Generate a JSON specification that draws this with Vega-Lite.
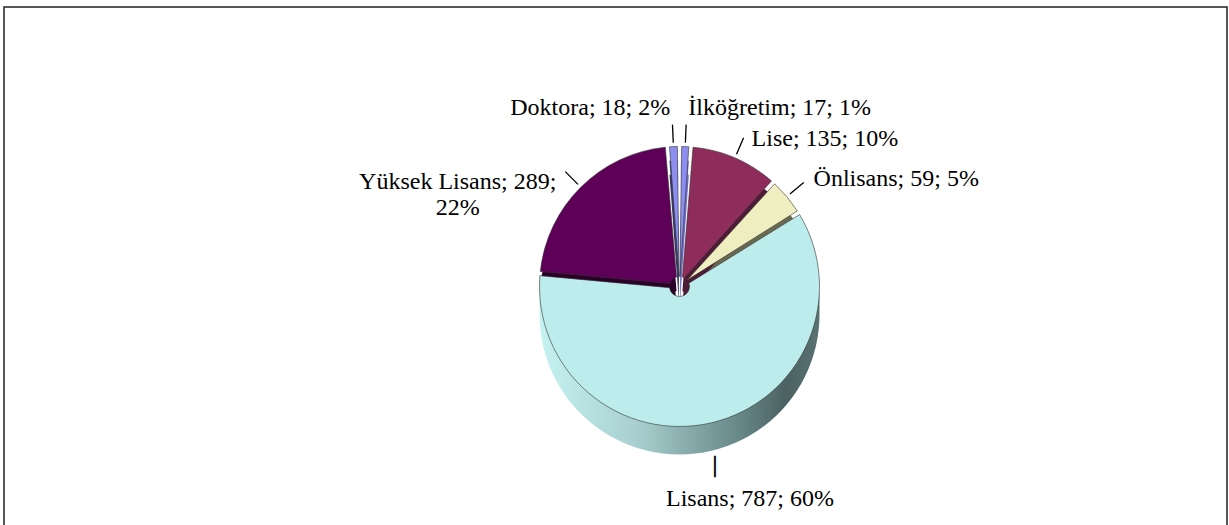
{
  "$schema": "https://vega.github.io/schema/vega-lite/v6.json",
  "autosize": {"type": "fit", "contains": "padding"},
  "width": 1229,
  "height": 525,
  "padding": {"left": 4, "top": 7, "right": 2, "bottom": -3},
  "background": "white",
  "view": {"stroke": "#222", "strokeWidth": 1.5},
  "config": {"view": {"stroke": "#222", "strokeWidth": 1.5}},
  "data": {"values": [
    {"idx": 1, "cat": "İlköğretim", "n": 17, "label": "İlköğretim; 17; 1%"},
    {"idx": 2, "cat": "Lise", "n": 135, "label": "Lise; 135; 10%"},
    {"idx": 3, "cat": "Önlisans", "n": 59, "label": "Önlisans; 59; 5%"},
    {"idx": 4, "cat": "Lisans", "n": 787, "label": "Lisans; 787; 60%"},
    {"idx": 5, "cat": "Yüksek Lisans", "n": 289, "label": "Yüksek Lisans; 289;\n22%"},
    {"idx": 6, "cat": "Doktora", "n": 18, "label": "Doktora; 18; 2%"}
  ]},
  "encoding": {
    "theta": {"field": "n", "type": "quantitative", "stack": true},
    "order": {"field": "idx", "type": "quantitative"}
  },
  "layer": [
    {
      "mark": {"type": "arc", "radius": 140, "radius2": 10, "padAngle": 0.03, "x": {"expr": "width/2+64"}, "y": {"expr": "height/2+47"}},
      "encoding": {
        "fill": {
          "condition": {"test": "datum.cat === 'Lisans'", "value": {"gradient": "linear", "x1": 0, "y1": 0, "x2": 1, "y2": 0, "stops": [{"offset": 0, "color": "#c6f2f2"}, {"offset": 0.35, "color": "#a8cfcf"}, {"offset": 0.7, "color": "#6a8a8a"}, {"offset": 0.88, "color": "#4c6262"}, {"offset": 1, "color": "#5a7272"}]}},
          "field": "cat", "type": "nominal",
          "scale": {"domain": ["İlköğretim", "Lise", "Önlisans", "Lisans", "Yüksek Lisans", "Doktora"], "range": ["#6f6fc8", "#4e1c36", "#696950", "#7ea0a0", "#2a0029", "#3a3a66"]},
          "legend": null
        }
      }
    },
    {
      "mark": {"type": "arc", "radius": 140, "radius2": 10, "padAngle": 0.03, "x": {"expr": "width/2+64"}, "y": {"expr": "height/2+33"}},
      "encoding": {
        "fill": {
          "condition": {"test": "datum.cat === 'Lisans'", "value": {"gradient": "linear", "x1": 0, "y1": 0, "x2": 1, "y2": 0, "stops": [{"offset": 0, "color": "#c6f2f2"}, {"offset": 0.35, "color": "#a8cfcf"}, {"offset": 0.7, "color": "#6a8a8a"}, {"offset": 0.88, "color": "#4c6262"}, {"offset": 1, "color": "#5a7272"}]}},
          "field": "cat", "type": "nominal",
          "scale": {"domain": ["İlköğretim", "Lise", "Önlisans", "Lisans", "Yüksek Lisans", "Doktora"], "range": ["#6f6fc8", "#4e1c36", "#696950", "#7ea0a0", "#2a0029", "#3a3a66"]},
          "legend": null
        }
      }
    },
    {
      "mark": {"type": "arc", "radius": 140, "radius2": 10, "padAngle": 0.03, "stroke": "#333", "strokeWidth": 0.6, "x": {"expr": "width/2+64"}, "y": {"expr": "height/2+19"}},
      "encoding": {
        "color": {
          "field": "cat", "type": "nominal",
          "scale": {"domain": ["İlköğretim", "Lise", "Önlisans", "Lisans", "Yüksek Lisans", "Doktora"], "range": ["#8e8ef0", "#8e2c5c", "#eeeec0", "#bdecec", "#5e0058", "#8e8ef0"]},
          "legend": null
        }
      }
    },
    {
      "mark": {"type": "arc", "radius": 162, "radius2": 144, "padAngle": 3.14, "fill": "transparent", "stroke": "#000", "strokeWidth": 1.3, "x": {"expr": "width/2+64"}, "y": {"expr": "height/2+19"}},
      "encoding": {"opacity": {"condition": {"test": "datum.cat === 'Lisans'", "value": 0}, "value": 1}}
    },
    {
      "mark": {"type": "text", "color": "#000", "stroke": "#000", "strokeWidth": 0.7, "font": "Liberation Serif", "fontSize": 24, "radius": 155, "align": "center", "baseline": "middle", "x": {"expr": "width/2+64"}, "y": {"expr": "height/2+47"}},
      "encoding": {"text": {"value": "|"}, "opacity": {"condition": {"test": "datum.cat === 'Lisans'", "value": 1}, "value": 0}}
    },
    {
      "mark": {"type": "text", "color": "#000", "font": "Liberation Serif", "fontSize": 24, "radius": 177, "align": "center", "baseline": "top", "dx": 30, "x": {"expr": "width/2+64"}, "y": {"expr": "height/2+47"}},
      "encoding": {"text": {"field": "label"}, "opacity": {"condition": {"test": "datum.cat === 'Lisans'", "value": 1}, "value": 0}}
    },
    {
      "mark": {"type": "text", "color": "#000", "font": "Liberation Serif", "fontSize": 24, "radius": 167, "align": "right", "baseline": "bottom", "dx": -2, "x": {"expr": "width/2+64"}, "y": {"expr": "height/2+19"}},
      "encoding": {"text": {"field": "label"}, "opacity": {"condition": {"test": "datum.cat === 'Doktora'", "value": 1}, "value": 0}}
    },
    {
      "mark": {"type": "text", "color": "#000", "font": "Liberation Serif", "fontSize": 24, "radius": 167, "align": "left", "baseline": "bottom", "dx": 2, "x": {"expr": "width/2+64"}, "y": {"expr": "height/2+19"}},
      "encoding": {"text": {"field": "label"}, "opacity": {"condition": {"test": "datum.cat === 'İlköğretim'", "value": 1}, "value": 0}}
    },
    {
      "mark": {"type": "text", "color": "#000", "font": "Liberation Serif", "fontSize": 24, "radius": 167, "align": "left", "baseline": "middle", "dx": 6, "dy": 6, "x": {"expr": "width/2+64"}, "y": {"expr": "height/2+19"}},
      "encoding": {"text": {"field": "label"}, "opacity": {"condition": {"test": "datum.cat === 'Lise'", "value": 1}, "value": 0}}
    },
    {
      "mark": {"type": "text", "color": "#000", "font": "Liberation Serif", "fontSize": 24, "radius": 167, "align": "left", "baseline": "middle", "dx": 6, "x": {"expr": "width/2+64"}, "y": {"expr": "height/2+19"}},
      "encoding": {"text": {"field": "label"}, "opacity": {"condition": {"test": "datum.cat === 'Önlisans'", "value": 1}, "value": 0}}
    },
    {
      "mark": {"type": "text", "color": "#000", "font": "Liberation Serif", "fontSize": 24, "radius": 167, "align": "center", "baseline": "middle", "lineBreak": "\n", "dx": -104, "dy": 14, "x": {"expr": "width/2+64"}, "y": {"expr": "height/2+19"}},
      "encoding": {"text": {"field": "label"}, "opacity": {"condition": {"test": "datum.cat === 'Yüksek Lisans'", "value": 1}, "value": 0}}
    }
  ]
}
